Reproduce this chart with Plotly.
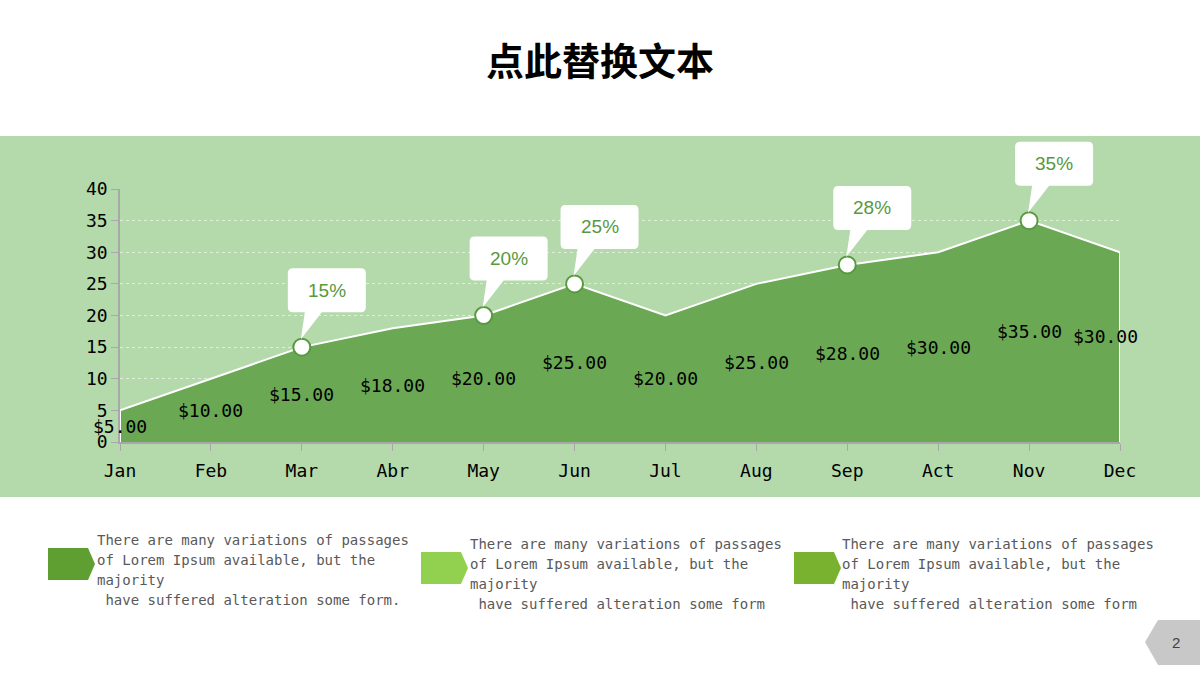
import plotly.graph_objects as go

months = ["Jan", "Feb", "Mar", "Abr", "May", "Jun", "Jul", "Aug", "Sep", "Act", "Nov", "Dec"]
values = [5, 10, 15, 18, 20, 25, 20, 25, 28, 30, 35, 30]
pct_months = ["Mar", "May", "Jun", "Sep", "Nov"]
pct_labels = ["15%", "20%", "25%", "28%", "35%"]
y_ticks = [0, 5, 10, 15, 20, 25, 30, 35, 40]

title_text = "点此替换文本"
body_lines = [
    "There are many variations of passages",
    "of Lorem Ipsum available, but the",
    "majority",
    " have suffered alteration some form",
]
block_endings = [".", "", ""]
page_number = "2"

BAND = "#b4d9aa"
AREA = "#6aa854"
PCT_GREEN = "#57993f"
MONO = "DejaVu Sans Mono"

# plot area in pixels
W, H = 1200, 675
PL, PR, PT, PB = 120, 1120, 189, 442
Y_MAX = 40


def px_x(px):
    return (px - PL) / (PR - PL)


def px_y(py):
    return (PB - py) / (PB - PT)


fig = go.Figure()

fig.add_trace(go.Scatter(
    x=months, y=values, mode="lines", fill="tozeroy",
    fillcolor=AREA, line=dict(color="white", width=2),
    hoverinfo="skip", showlegend=False,
))

pct_values = [values[months.index(m)] for m in pct_months]

shapes = []
annotations = []

# green band
shapes.append(dict(type="rect", xref="paper", yref="paper", layer="below",
                   x0=px_x(0), x1=px_x(W), y0=px_y(497), y1=px_y(136),
                   fillcolor=BAND, line=dict(width=0)))

# vertical white edges of the area
for m in (months[0], months[-1]):
    shapes.append(dict(type="line", xref="x", yref="y", x0=m, x1=m, y0=0,
                       y1=values[months.index(m)], line=dict(color="white", width=2),
                       layer="above"))

# callouts (anchored in paper space so they are not clipped by the plot area)
L_, R_, T_, B_, r = -14, 64, 79, 35, 5
callout_path = (
    f"M {L_+r},{T_} L {R_-r},{T_} Q {R_},{T_} {R_},{T_-r} L {R_},{B_+r} "
    f"Q {R_},{B_} {R_-r},{B_} L 20,{B_} L -1,8 L 3,{B_} L {L_+r},{B_} "
    f"Q {L_},{B_} {L_},{B_+r} L {L_},{T_-r} Q {L_},{T_} {L_+r},{T_} Z"
)
for m, v, lab in zip(pct_months, pct_values, pct_labels):
    ax_paper = months.index(m) / (len(months) - 1)
    ay_paper = v / Y_MAX
    shapes.append(dict(type="path", xref="paper", yref="paper", xsizemode="pixel",
                       ysizemode="pixel", xanchor=ax_paper, yanchor=ay_paper,
                       path=callout_path, fillcolor="white", line=dict(width=0),
                       layer="above"))
    annotations.append(dict(x=m, y=v, xref="x", yref="y", text=lab, showarrow=False,
                            xanchor="center", yanchor="middle",
                            xshift=(L_ + R_) / 2, yshift=(T_ + B_) / 2,
                            font=dict(family="Liberation Sans", size=19, color=PCT_GREEN)))

fig.add_trace(go.Scatter(
    x=pct_months, y=pct_values, mode="markers", cliponaxis=False,
    marker=dict(size=17, color="white", line=dict(color=PCT_GREEN, width=2)),
    hoverinfo="skip", showlegend=False,
))

# value labels
last = len(months) - 1
for i, (m, v) in enumerate(zip(months, values)):
    annotations.append(dict(x=m, y=v / 2, xref="x", yref="y", text=f"${v:.2f}",
                            showarrow=False, xanchor="center", yanchor="middle",
                            xshift=-15 if i == last else 0,
                            yshift=11 if i == last else 0,
                            font=dict(family=MONO, size=18, color="black")))

# title
annotations.append(dict(xref="paper", yref="paper", x=px_x(600), y=px_y(58),
                        xanchor="center", yanchor="middle",
                        text=f"<b>{title_text}</b>", showarrow=False,
                        font=dict(family="Noto Sans CJK SC", size=38, color="black")))

# bottom blocks
blocks = [
    dict(icon=(48, 548), color="#5f9e31", tx=95, ty=540),
    dict(icon=(421, 552), color="#92d050", tx=468, ty=544),
    dict(icon=(794, 552), color="#78b22e", tx=840, ty=544),
]
for b, ending in zip(blocks, block_endings):
    ix, iy = b["icon"]
    pts = [(ix, iy), (ix + 40, iy), (ix + 47, iy + 16), (ix + 40, iy + 32), (ix, iy + 32)]
    path = "M " + " L ".join(f"{px_x(x)},{px_y(y)}" for x, y in pts) + " Z"
    shapes.append(dict(type="path", xref="paper", yref="paper", path=path,
                       fillcolor=b["color"], line=dict(width=0)))
    for k, line in enumerate(body_lines):
        txt = line + (ending if k == len(body_lines) - 1 else "")
        annotations.append(dict(xref="paper", yref="paper", x=px_x(b["tx"]),
                                y=px_y(b["ty"] + 20 * k), xanchor="left", yanchor="middle",
                                text=txt.replace(" ", "&nbsp;"), showarrow=False,
                                font=dict(family=MONO, size=14, color="#595959")))

# page number tag
pts = [(1158, 620), (1200, 620), (1200, 665), (1158, 665), (1145, 642)]
shapes.append(dict(type="path", xref="paper", yref="paper",
                   path="M " + " L ".join(f"{px_x(x)},{px_y(y)}" for x, y in pts) + " Z",
                   fillcolor="#c8c8c8", line=dict(width=0)))
annotations.append(dict(xref="paper", yref="paper", x=px_x(1176), y=px_y(642),
                        xanchor="center", yanchor="middle",
                        text=page_number, showarrow=False,
                        font=dict(family="Liberation Sans", size=15, color="#404040")))

fig.update_layout(
    width=W, height=H,
    margin=dict(l=PL, r=W - PR, t=PT, b=H - PB, pad=0),
    paper_bgcolor="white", plot_bgcolor="rgba(0,0,0,0)",
    shapes=shapes, annotations=annotations, showlegend=False,
    xaxis=dict(type="category", categoryorder="array", categoryarray=months,
               range=[0, len(months) - 1], showgrid=False, zeroline=False,
               showline=True, linecolor="#a8a8a8", linewidth=2,
               ticks="outside", ticklen=7, tickcolor="#a8a8a8", ticklabelstandoff=4,
               tickfont=dict(family=MONO, size=18, color="black")),
    yaxis=dict(range=[0, Y_MAX], tickvals=y_ticks, showgrid=True,
               gridcolor="rgba(255,255,255,0.55)", griddash="dot", gridwidth=1,
               zeroline=False, showline=True, linecolor="#a8a8a8", linewidth=1.5,
               ticks="outside", ticklen=7, tickcolor="#a8a8a8",
               tickfont=dict(family=MONO, size=18, color="black")),
)

fig.write_html("out.html", config={"displayModeBar": False},
               post_script="document.body.style.margin='0';")
